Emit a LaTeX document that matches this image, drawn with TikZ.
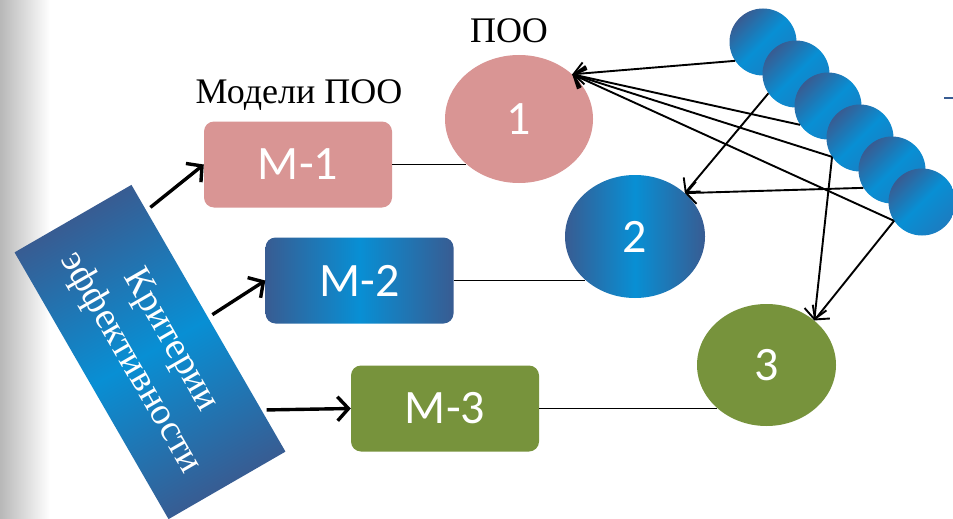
\documentclass[tikz,border=0pt]{standalone}
\usepackage{fontspec}
\setmainfont{Liberation Serif}
\newfontfamily\carl{Carlito}
\usetikzlibrary{arrows.meta,shapes.geometric,calc}
\definecolor{pinkc}{RGB}{217,149,148}
\definecolor{greenc}{RGB}{119,147,60}
\definecolor{bdark}{RGB}{56,92,146}
\definecolor{bbright}{RGB}{8,143,212}
\definecolor{bmid}{RGB}{28,124,192}
\begin{document}
\begin{tikzpicture}[x=1pt,y=-1pt,
  mbox/.style={rounded corners=10pt, minimum width=188pt, minimum height=86pt, inner sep=0pt, text=white, font=\carl\fontsize{48}{50}\selectfont},
  poo/.style={ellipse, inner sep=0pt, text=white, font=\carl\fontsize{48}{50}\selectfont},
  bluegrad/.style={left color=bdark, right color=bdark, middle color=bbright},
  critgrad/.style={top color=bdark, bottom color=bdark, middle color=bbright, shading angle=30},
  ball/.style={circle, minimum size=67pt, inner sep=0pt, top color=bdark, bottom color=bmid, middle color=bbright, shading angle=45},
  bigarrow/.style={line width=3.4pt, -{Straight Barb[length=11pt,width=24pt]}},
  thinarrow/.style={line width=1.9pt, -{Straight Barb[length=10pt,width=22pt]}},
  thinline/.style={line width=1.8pt},
  lbl/.style={font=\fontsize{36}{40}\selectfont, anchor=base, inner sep=0pt}]
\useasboundingbox (0,0) rectangle (953,519);
\fill[white] (0,0) rectangle (953,519);
\shade[left color=black!28, right color=white] (0,0) rectangle (50,519);

% criteria box
\node[rotate=-60, minimum width=308pt, minimum height=135pt, inner sep=0pt, critgrad,
      text=white, align=center, font=\fontsize{38}{46}\selectfont] (crit) at (150,352) {Критерии\\эффективности};

% model boxes
\node[mbox, fill=pinkc] (m1) at (298,164.5) {М-1};
\node[mbox, bluegrad] (m2) at (359.5,280.5) {М-2};
\node[mbox, fill=greenc] (m3) at (445,408.5) {М-3};

% ellipses
\node[poo, fill=pinkc, minimum width=148pt, minimum height=128pt] (e1) at (519,119) {1};
\node[poo, bluegrad, minimum width=140pt, minimum height=123pt] (e2) at (635,236.5) {2};
\node[poo, fill=greenc, minimum width=139pt, minimum height=122pt] (e3) at (766.5,365) {3};

% labels
\node[lbl] (lm) at (299,103) {Модели ПОО};
\node[lbl] (lp) at (509,43) {ПОО};

% balls
\node[ball] (c1) at (763,42) {};
\node[ball] (c2) at (796,74) {};
\node[ball] (c3) at (828,106) {};
\node[ball] (c4) at (860,138) {};
\node[ball] (c5) at (892,170) {};
\node[ball] (c6) at (922,202) {};

% small dash at right edge
\draw[bdark, line width=2pt] (944,97.5) -- (953,97.5);

% arrows from criteria
\draw[bigarrow, shorten <=5pt] ($(crit.north west)!0.097!(crit.north east)$) -- (m1.west);
\draw[bigarrow, shorten <=5pt] ($(crit.north west)!0.497!(crit.north east)$) -- (m2.west);
\draw[bigarrow, shorten <=5pt] ($(crit.north west)!0.844!(crit.north east)$) -- (m3.west);

% lines from boxes to ellipses
\draw[thinline] (m1.east) -- (m1.east -| e1.220);
\draw[thinline] (m2.east) -- (m2.east -| e2.221);
\draw[thinline] (m3.east) -- (m3.east -| e3.221);

% arrows from balls
\draw[thinarrow] (c1.214) -- (e1.40);
\draw[thinarrow] (c3.214) -- (e1.40);
\draw[thinarrow] (c4.214) -- (e1.40);
\draw[thinarrow] (c6.214) -- (e1.40);
\draw[thinarrow] (c2.215) -- (e2.41);
\draw[thinarrow] (c5.212) -- (e2.41);
\draw[thinarrow] (c4.214) -- (e3.43);
\draw[thinarrow] (c6.214) -- (e3.43);
\end{tikzpicture}
\end{document}
